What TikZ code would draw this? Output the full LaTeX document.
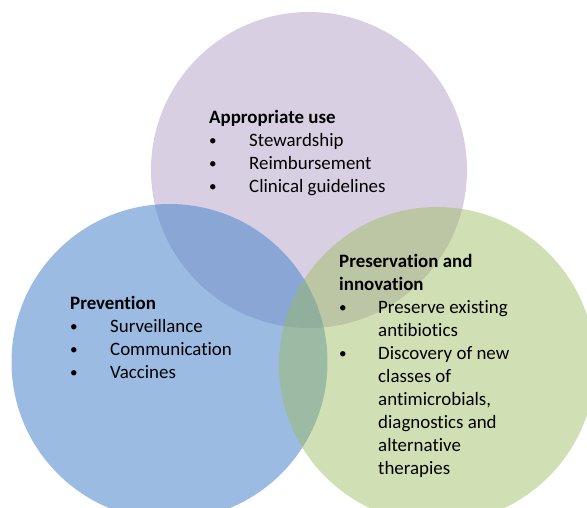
\documentclass[tikz,border=0pt]{standalone}
\usepackage{fontspec}
\setmainfont[Ligatures={NoCommon}]{Carlito}
\newcommand{\bul}{\raisebox{0.5pt}{\scalebox{0.8}{\textbullet}}}
\begin{document}
\begin{tikzpicture}[x=1pt,y=-1pt,
  venn/.style={circle,minimum size=316pt,inner sep=0pt,draw=none},
  txt/.style={anchor=north west,inner sep=0pt,align=left,font=\fontsize{18.9}{23}\selectfont,text=black}]
\useasboundingbox (0,0) rectangle (587,507);
\fill[white] (0,0) rectangle (587,507);
\clip (0,0) rectangle (587,507);
\definecolor{cpur}{HTML}{8064A2}
\definecolor{cblu}{HTML}{4A84CC}
\definecolor{cgrn}{HTML}{9BBB59}
\node[venn,fill=cpur,fill opacity=0.3] (top) at (309,170) {};
\node[venn,fill=cblu,fill opacity=0.55] (left) at (169.5,362) {};
\node[venn,fill=cgrn,fill opacity=0.45] (right) at (437,365) {};
\node[txt] (appr) at (209,110) {\textbf{Appropriate use}\\
\makebox[40pt][l]{\bul}Stewardship\\
\makebox[40pt][l]{\bul}Reimbursement\\
\makebox[40pt][l]{\bul}Clinical guidelines};
\node[txt] (prev) at (70,296) {\textbf{Prevention}\\
\makebox[40pt][l]{\bul}Surveillance\\
\makebox[40pt][l]{\bul}Communication\\
\makebox[40pt][l]{\bul}Vaccines};
\node[txt] (pres) at (339,254) {\textbf{Preservation and}\\
\textbf{innovation}\\
\makebox[39pt][l]{\bul}Preserve existing\\
\hspace*{39pt}antibiotics\\
\makebox[39pt][l]{\bul}Discovery of new\\
\hspace*{39pt}classes of\\
\hspace*{39pt}antimicrobials,\\
\hspace*{39pt}diagnostics and\\
\hspace*{39pt}alternative\\
\hspace*{39pt}therapies};
\end{tikzpicture}
\end{document}
